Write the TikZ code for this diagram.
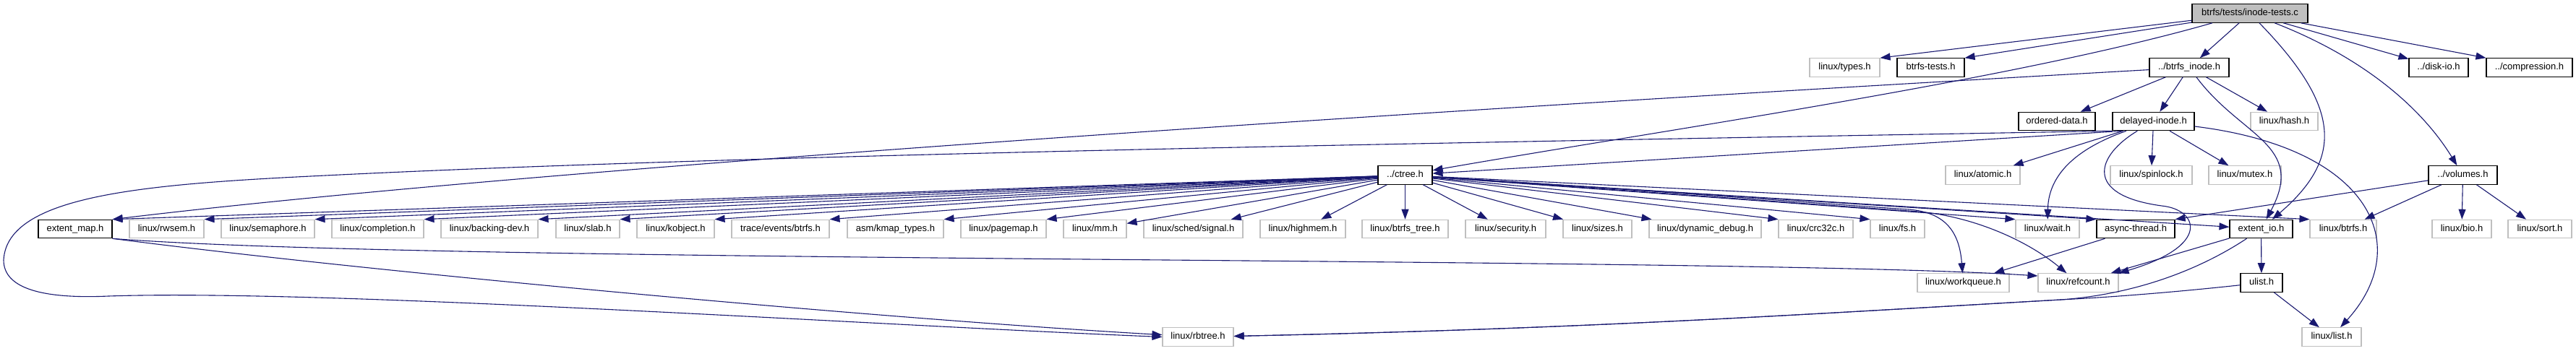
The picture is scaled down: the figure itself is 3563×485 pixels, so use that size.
\documentclass[tikz,border=0pt]{standalone}
\usepackage{fontspec}
\setmainfont{Liberation Sans}
\usetikzlibrary{arrows.meta}
\definecolor{edgeblue}{HTML}{191970}
\definecolor{greyseventyfive}{HTML}{BFBFBF}
\begin{document}
\begin{tikzpicture}[x=1pt,y=-1pt,
  base/.style={rectangle, minimum height=25.5pt, inner sep=0pt, line width=1.1pt,
    font=\fontsize{13}{15}\selectfont, text height=9.4pt, text depth=2.6pt, anchor=center, fill=white},
  doc/.style={base, draw=black},
  ext/.style={base, draw=greyseventyfive},
  rootbox/.style={base, draw=black, fill=greyseventyfive},
  edge/.style={draw=edgeblue, line width=1.1pt, -{Triangle[length=14pt,width=10pt]}},
]
\useasboundingbox (0,0) rectangle (3563,485);

% row 0
\node[rootbox, minimum width=160pt] (root) at (3112,18.5) {btrfs/tests/inode-tests.c};
% row 1
\node[ext, minimum width=97pt] (types) at (2551.5,93.5) {linux/types.h};
\node[doc, minimum width=93pt] (btests) at (2670.5,93.5) {btrfs-tests.h};
\node[doc, minimum width=110pt] (binode) at (3028,93.5) {../btrfs\_inode.h};
\node[doc, minimum width=82pt] (diskio) at (3373,93.5) {../disk-io.h};
\node[doc, minimum width=119pt] (compr) at (3498.5,93.5) {../compression.h};
% row 2
\node[doc, minimum width=106pt] (ordered) at (2845,168) {ordered-data.h};
\node[doc, minimum width=113pt] (delayed) at (2978.5,168) {delayed-inode.h};
\node[ext, minimum width=93pt] (hash) at (3159.5,168) {linux/hash.h};
% row 3
\node[doc, minimum width=75pt] (ctree) at (1943.5,242.5) {../ctree.h};
\node[ext, minimum width=103pt] (atomic) at (2742.5,242.5) {linux/atomic.h};
\node[ext, minimum width=113pt] (spinlock) at (2975.5,242.5) {linux/spinlock.h};
\node[ext, minimum width=100pt] (mutex) at (3105,242.5) {linux/mutex.h};
\node[doc, minimum width=95pt] (volumes) at (3406.5,242.5) {../volumes.h};
% row 4
\node[doc, minimum width=102pt] (emap) at (104,317) {extent\_map.h};
\node[ext, minimum width=103pt] (rwsem) at (230.5,317) {linux/rwsem.h};
\node[ext, minimum width=129pt] (sema) at (370.5,317) {linux/semaphore.h};
\node[ext, minimum width=127pt] (compl) at (522.5,317) {linux/completion.h};
\node[ext, minimum width=134pt] (backing) at (677,317) {linux/backing-dev.h};
\node[ext, minimum width=88pt] (slab) at (813,317) {linux/slab.h};
\node[ext, minimum width=107pt] (kobj) at (934.5,317) {linux/kobject.h};
\node[ext, minimum width=135pt] (trace) at (1079.5,317) {trace/events/btrfs.h};
\node[ext, minimum width=133pt] (kmap) at (1238.5,317) {asm/kmap\_types.h};
\node[ext, minimum width=118pt] (pagemap) at (1388,317) {linux/pagemap.h};
\node[ext, minimum width=87pt] (mm) at (1514.5,317) {linux/mm.h};
\node[ext, minimum width=137pt] (signal) at (1650.5,317) {linux/sched/signal.h};
\node[ext, minimum width=118pt] (highmem) at (1802,317) {linux/highmem.h};
\node[ext, minimum width=119pt] (btree) at (1943.5,317) {linux/btrfs\_tree.h};
\node[ext, minimum width=111pt] (security) at (2082.5,317) {linux/security.h};
\node[ext, minimum width=95pt] (sizes) at (2209.5,317) {linux/sizes.h};
\node[ext, minimum width=155pt] (dyndbg) at (2358.5,317) {linux/dynamic\_debug.h};
\node[ext, minimum width=103pt] (crc) at (2511.5,317) {linux/crc32c.h};
\node[ext, minimum width=75pt] (fs) at (2624.5,317) {linux/fs.h};
\node[ext, minimum width=88pt] (wait) at (2832,317) {linux/wait.h};
\node[doc, minimum width=108pt] (async) at (2954,317) {async-thread.h};
\node[doc, minimum width=87pt] (eio) at (3127.5,317) {extent\_io.h};
\node[ext, minimum width=92pt] (lbtrfs) at (3241,317) {linux/btrfs.h};
\node[ext, minimum width=82pt] (bio) at (3405,317) {linux/bio.h};
\node[ext, minimum width=88pt] (sort) at (3513,317) {linux/sort.h};
% row 5
\node[ext, minimum width=127pt] (wq) at (2715.5,391.5) {linux/workqueue.h};
\node[ext, minimum width=111pt] (refc) at (2874.5,391.5) {linux/refcount.h};
\node[doc, minimum width=58pt] (ulist) at (3128,391.5) {ulist.h};
% row 6
\node[ext, minimum width=98pt] (rbtree) at (1657,466.5) {linux/rbtree.h};
\node[ext, minimum width=82pt] (list) at (3225,466.5) {linux/list.h};

% root edges
\draw[edge] (root) -- (types.north east);
\draw[edge] (root) -- (btests.north east);
\draw[edge] ([xshift=-52pt]root.south) .. controls (2780,112) and (2300,180) .. (ctree);
\draw[edge] (root) -- (binode);
\draw[edge] (root) .. controls (3240,150) and (3240,220) .. (eio);
\draw[edge] (root) .. controls (3270,80) and (3350,150) .. (volumes);
\draw[edge] (root) -- (diskio);
\draw[edge] (root) -- (compr.north west);

% btrfs_inode edges
\draw[edge] (binode) .. controls (1500,180) and (600,250) .. (emap.north east);
\draw[edge] (binode) -- (ordered);
\draw[edge] (binode) -- (delayed);
\draw[edge] (binode) -- (hash);
\draw[edge] (binode) .. controls (3100,190) and (3190,200) .. (eio);

% delayed-inode edges
\draw[edge] ([xshift=15pt]delayed.south west) -- (ctree);
\draw[edge] (delayed.south west) .. controls (2100,196) and (1050,213) .. (450,243)
  .. controls (200,255) and (10,270) .. (5,360)
  .. controls (5,400) and (60,414) .. (150,410)
  .. controls (450,400) and (1200,450) .. (rbtree.west);
\draw[edge] (delayed) -- (atomic);
\draw[edge] (delayed) .. controls (2860,210) and (2833,250) .. (wait);
\draw[edge] (delayed) .. controls (2900,215) and (2880,270) .. (2990,285)
  .. controls (3040,290) and (3060,340) .. (refc.north east);
\draw[edge] (delayed) -- (spinlock);
\draw[edge] (delayed) -- (mutex);
\draw[edge] (delayed) .. controls (3280,205) and (3340,340) .. (list);

% ctree edges
\foreach \t in {emap,rwsem,sema,compl,backing,slab,kobj,trace,kmap,pagemap}
  \draw[edge] (ctree) -- (\t.north east);
\foreach \t in {mm,signal,highmem,btree,security,sizes,dyndbg,eio}
  \draw[edge] (ctree) -- (\t);
\foreach \t in {crc,fs,wait,async,lbtrfs}
  \draw[edge] (ctree) -- (\t.north west);
\draw[edge] (ctree) .. controls (2300,265) and (2550,284) .. (2640,290)
  .. controls (2690,294) and (2710,320) .. (wq);
\draw[edge] (ctree) .. controls (2300,267) and (2550,286) .. (2640,292)
  .. controls (2720,296) and (2800,330) .. (refc);

% volumes edges
\draw[edge] (volumes) -- (async.north east);
\draw[edge] (volumes) -- (lbtrfs);
\draw[edge] (volumes) -- (bio);
\draw[edge] (volumes) -- (sort);

% async-thread
\draw[edge] (async) -- (wq);

% extent_io
\draw[edge] (eio) -- (refc);
\draw[edge] (eio) -- (ulist);
\draw[edge] (eio) .. controls (3040,375) and (2950,408) .. (2850,415)
  .. controls (2500,435) and (2200,455) .. (rbtree);

% ulist
\draw[edge] (ulist) -- (list);
\draw[edge] (ulist) .. controls (3050,400) and (2950,410) .. (2850,415)
  .. controls (2500,435) and (2200,455) .. (rbtree);

% extent_map
\draw[edge] (emap.south east) .. controls (500,375) and (1200,440) .. (rbtree);
\draw[edge] (emap.south east) .. controls (600,365) and (2400,355) .. ([yshift=9.5pt]refc.west);
\end{tikzpicture}
\end{document}
